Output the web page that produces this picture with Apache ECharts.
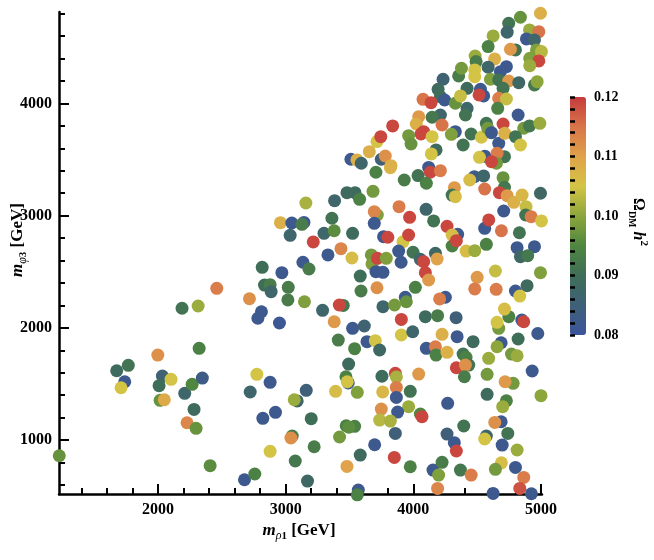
<!DOCTYPE html>
<html><head><meta charset="utf-8">
<script src="https://cdn.jsdelivr.net/npm/echarts@6/dist/echarts.min.js"></script>
<style>html,body{margin:0;padding:0;background:#fff}#c{width:654px;height:560px}</style>
</head><body><div id="c"></div>
<script>
// m_rho1 [GeV]
const X = [1226,1676,1767,1739,1710,1998,2034,2008,2102,2016,2049,2209,2267,2347,2322,2282,2227,2298,2408,
2188,2314,2460,
2716,2816,2834,2878,2886,2970,3020,3017,2810,2782,2951,3147,3135,3182,3289,3380,3451,3420,3524,3616,3331,3433,3519,3671,3676,3718,3707,3762,3584,3590,3715,3762,2959,3143,3048,3127,3035,3158,3216,3300,3362,3380,3383,3524,3480,3543,3579,3707,3684,3718,3694,3694,3767,3800,
2774,2878,2722,2821,2920,3161,3090,3067,3200,3051,3041,2878,3223,3075,2677,2758,3171,3391,3472,3490,3482,3561,3493,3412,3540,3637,3702,3736,3474,3540,3495,3422,3697,3584,3480,3569,3561,3754,3760,3749,3736,
3906,3995,4225,4343,4468,4688,4656,4821,4975,4102,4173,4178,4264,4390,4413,4434,4337,4408,4400,4590,4769,4813,3859,3867,4042,3867,3976,3867,3963,3877,4055,4068,3820,3859,4269,4395,4264,4321,4337,4578,4782,4719,4578,4729,4700,4931,5000,4688,4638,4740,4572,4559,4696,4813,4690,4643,4800,4865,4834,4925,4625,3851,3976,4154,4225,4198,4190,4369,4453,
3820,4120,4133,4212,3929,4037,4102,4322,4304,4329,4478,4551,4442,4703,4714,4559,4674,4735,4787,4852,4996,4883,4880,4923,5004,4708,4559,4591,4690,4831,3888,4100,3971,4159,4264,4347,4304,4304,4337,4413,4481,4572,4813,4949,4839,4896,4996,3919,3963,3885,3998,3788,3904,4055,4081,4173,4186,4094,4120,4016,4500,4643,4481,4649,4891,4800,4834,3937,3945,3853,4251,4206,4094,4190,4335,3906,4748,4714,4669,4656,4850,4865,
4839,4996,4747,4735,4910,4983,4886,4949,4625,4586,4800,4761,4965,5004,4484,4492,4637,4912,4983,4912,4355,4377,4481,4481,4586,4729,4682,4604,4669,4747,4826,4949,4970,4233,4421,4703,4194,4212,4245,4076,4139,4329,4369,4526,4551,4515,4421,4408,4669,4729,4661,4821,4042,4023,4212,4147,4225,4081,4060,4147,3838,3715,3745,3963,3982,4329,4298,4453,4533,4572,4583,4612,4669,4703,4716,4865,4910,4800,4839,4991,4390,3749,3780,3825,4178,4141,4560,4518,4714,4656,4651,4612,
3655,3511,3558,3592];
// m_phi3 [GeV]
const Y = [861,1618,1667,1520,1467,1758,1571,1485,1542,1355,1360,1417,1497,1553,1818,1274,1155,1105,772,
2175,2195,2353,
2260,2540,2382,2385,2323,2492,2362,2249,2144,2086,2044,2233,2585,2525,2157,2055,2200,2204,1996,2017,2650,2706,2623,2650,2570,2620,2501,2495,2462,2329,2358,2189,2938,2940,2935,2923,2825,3113,2766,2843,2977,2866,3134,2843,3205,3205,3146,3387,3217,3006,3036,2932,2813,2808,
1586,1515,1429,1194,1248,1444,1349,1360,1191,1036,1019,900,941,814,647,698,635,1435,1565,1510,1520,1426,1678,1892,1815,1877,1886,1803,1128,1123,1115,1028,959,867,766,555,513,1569,1430,1277,1179,
1937,1966,1943,1922,1877,1868,1832,1901,1950,1818,1832,1758,1782,1767,1738,1669,1645,1669,1565,1729,1767,1752,1595,1563,1589,1470,1435,1381,1298,1250,1233,1209,1170,1060,1328,1126,1054,977,903,1586,1506,1520,1408,1351,1298,1616,1396,1164,1158,1060,1036,1010,956,912,798,740,757,668,570,522,525,846,763,733,802,689,570,733,689,
3428,3430,3387,3401,3318,3357,3289,3250,3184,3169,3348,3354,3318,3339,3253,3238,3205,3178,3119,3184,3200,3080,3006,2991,2953,3042,2887,2962,2866,2848,3080,3057,2985,2953,2905,2834,2828,2730,2777,2685,2688,2745,2715,2724,2635,2644,2492,2768,2828,2685,2674,2620,2585,2611,2590,2665,2614,2492,2427,2362,2451,2507,2347,2344,2376,2329,2284,2273,2233,2204,2273,2258,2100,2109,2091,2076,2100,2168,1996,2050,2070,2055,
4768,4804,4715,4635,4655,4640,4575,4566,4602,4507,4477,4483,4477,4462,4423,4373,4397,4403,4379,4337,4245,4314,4299,4239,4323,4328,4283,4216,4210,4200,4185,4165,4194,4216,4135,4135,4126,4061,4031,4037,4007,4002,4067,4126,4067,4076,3957,3897,4046,4040,3957,3897,3882,3817,3897,3877,3808,3749,3728,3704,3800,3660,3704,3713,3639,3749,3725,3728,3699,3823,3779,3740,3645,3817,3734,3779,3800,3704,3630,3823,3630,3503,3532,3446,3586,3550,3530,3520,3526,3556,3467,3481,
3570,3503,3497,3467];
// Omega_DM h^2
const V = [0.097,0.089,0.091,0.082,0.105,0.112,0.086,0.090,0.105,0.097,0.109,0.087,0.095,0.083,0.094,0.089,0.113,0.097,0.096,
0.091,0.101,0.114,
0.112,0.090,0.090,0.093,0.087,0.082,0.093,0.093,0.082,0.082,0.081,0.099,0.082,0.093,0.087,0.111,0.092,0.119,0.082,0.086,0.082,0.113,0.106,0.098,0.099,0.119,0.082,0.082,0.090,0.093,0.112,0.087,0.108,0.082,0.082,0.093,0.087,0.102,0.119,0.087,0.091,0.096,0.087,0.089,0.089,0.089,0.094,0.094,0.098,0.099,0.113,0.082,0.082,0.119,
0.105,0.082,0.087,0.082,0.082,0.085,0.087,0.101,0.090,0.093,0.112,0.105,0.093,0.092,0.082,0.094,0.088,0.106,0.094,0.083,0.105,0.099,0.089,0.093,0.094,0.082,0.105,0.088,0.094,0.094,0.096,0.098,0.082,0.089,0.110,0.082,0.094,0.089,0.107,0.112,0.103,
0.105,0.087,0.108,0.082,0.089,0.082,0.100,0.090,0.082,0.082,0.114,0.094,0.108,0.091,0.094,0.091,0.119,0.112,0.093,0.101,0.098,0.101,0.119,0.102,0.111,0.114,0.091,0.082,0.101,0.082,0.095,0.119,0.102,0.085,0.082,0.091,0.085,0.082,0.119,0.098,0.098,0.111,0.089,0.094,0.101,0.082,0.100,0.082,0.112,0.091,0.087,0.105,0.082,0.101,0.106,0.098,0.082,0.114,0.118,0.082,0.082,0.119,0.094,0.082,0.093,0.099,0.113,0.092,0.114,
0.107,0.082,0.119,0.114,0.093,0.091,0.094,0.111,0.091,0.106,0.083,0.087,0.106,0.097,0.092,0.115,0.119,0.111,0.108,0.107,0.088,0.104,0.091,0.114,0.105,0.082,0.082,0.119,0.115,0.091,0.114,0.087,0.119,0.091,0.119,0.082,0.106,0.094,0.119,0.106,0.101,0.094,0.082,0.082,0.088,0.092,0.099,0.105,0.119,0.082,0.091,0.099,0.082,0.087,0.119,0.088,0.110,0.119,0.111,0.094,0.111,0.104,0.114,0.114,0.089,0.082,0.105,0.082,0.097,0.098,0.082,0.114,0.089,0.093,0.085,0.119,0.094,0.106,0.098,0.105,0.082,0.119,
0.097,0.108,0.091,0.087,0.101,0.115,0.082,0.087,0.101,0.094,0.091,0.111,0.099,0.103,0.101,0.093,0.108,0.099,0.119,0.101,0.093,0.098,0.105,0.105,0.087,0.082,0.082,0.099,0.091,0.111,0.088,0.092,0.100,0.086,0.089,0.091,0.089,0.090,0.082,0.115,0.119,0.097,0.104,0.082,0.082,0.119,0.087,0.091,0.114,0.104,0.094,0.082,0.111,0.108,0.087,0.092,0.115,0.119,0.119,0.105,0.119,0.105,0.119,0.098,0.097,0.082,0.099,0.091,0.105,0.091,0.098,0.082,0.082,0.119,0.108,0.098,0.092,0.091,0.105,0.101,0.091,0.085,0.112,0.108,0.089,0.105,0.082,0.105,0.091,0.114,0.098,0.119,
0.108,0.082,0.108,0.087];

const X_MAJOR = [2000,3000,4000,5000];
const X_MINOR = [1400,1600,1800,2200,2400,2600,2800,3200,3400,3600,3800,4200,4400,4600,4800];
const Y_MAJOR = [1000,2000,3000,4000];
const Y_MINOR = [600,800,1200,1400,1600,1800,2200,2400,2600,2800,3200,3400,3600,3800,4200,4400,4600,4800];
const CB_MIN = 0.08, CB_MAX = 0.12;

const XMIN = 1224, XMAX = 5008, YMIN = 520, YMAX = 4815;
const F = 'Liberation Serif, Times New Roman, serif';
const data = X.map((x,i)=>[x, Y[i], V[i]]);

const axLine = {show:true, onZero:false, lineStyle:{color:'#000', width:2.5}};
const lab = {fontFamily:F, fontWeight:'bold', fontSize:16, color:'#000', formatter:v=>String(Math.round(v))};

const chart = echarts.init(document.getElementById('c'), null, {renderer:'canvas'});
chart.setOption({
  animation:false,
  backgroundColor:'#fff',
  grid:[
    {left:59, right:112, top:12, bottom:66},
    {left:570, top:97, width:16, height:238}
  ],
  xAxis:[
    {type:'value', gridIndex:0, min:XMIN, max:XMAX, position:'bottom', axisLine:axLine,
     axisTick:{show:true, inside:true, length:10, lineStyle:{color:'#000', width:2}, customValues:X_MAJOR},
     axisLabel:Object.assign({margin:8, customValues:X_MAJOR}, lab), splitLine:{show:false}},
    {type:'value', gridIndex:0, min:XMIN, max:XMAX, position:'bottom', axisLine:{show:false},
     axisTick:{show:true, inside:true, length:6, lineStyle:{color:'#000', width:2}, customValues:X_MINOR},
     axisLabel:{show:false}, splitLine:{show:false}},
    {type:'value', gridIndex:1, show:false, min:0, max:1}
  ],
  yAxis:[
    {type:'value', gridIndex:0, min:YMIN, max:YMAX, position:'left', axisLine:axLine,
     axisTick:{show:true, inside:true, length:10, lineStyle:{color:'#000', width:2}, customValues:Y_MAJOR},
     axisLabel:Object.assign({margin:7, customValues:Y_MAJOR}, lab), splitLine:{show:false}},
    {type:'value', gridIndex:0, min:YMIN, max:YMAX, position:'left', axisLine:{show:false},
     axisTick:{show:true, inside:true, length:6, lineStyle:{color:'#000', width:2}, customValues:Y_MINOR},
     axisLabel:{show:false}, splitLine:{show:false}},
    {type:'value', gridIndex:1, min:CB_MIN, max:CB_MAX, interval:0.01, position:'right',
     axisLine:{show:false},
     axisTick:{show:true, inside:false, length:5, lineStyle:{color:'#000', width:2.5}},
     minorTick:{show:true, splitNumber:5, length:5, lineStyle:{color:'#000', width:2.5}},
     axisLabel:{margin:8, fontFamily:F, fontWeight:'bold', fontSize:14, color:'#000', formatter:v=>v.toFixed(2)},
     splitLine:{show:false}, minorSplitLine:{show:false}, z:10}
  ],
  visualMap:{
    type:'continuous', min:CB_MIN, max:CB_MAX, dimension:2, seriesIndex:0,
    left:570, top:97, itemWidth:16, itemHeight:238, padding:0, calculable:false, text:null,
    inRange:{color:['#3c559c','#3f6078','#3f6e58','#4f8640','#8ca63c','#d4c446','#e0a24a','#d8744a','#c63c3c']}
  },
  series:[{
    type:'scatter', xAxisIndex:0, yAxisIndex:0, data:data, symbol:'circle', symbolSize:13,
    itemStyle:{opacity:1}, clip:false
  }],
  graphic:[
    {type:'text', x:299, y:531, style:{text:'{m|m}{s|ρ}{n|1}{g| [GeV]}', align:'center', verticalAlign:'middle',
      rich:{
        m:{fontFamily:F, fontStyle:'italic', fontWeight:'bold', fontSize:17, lineHeight:22, fill:'#000'},
        s:{fontFamily:F, fontStyle:'italic', fontSize:12, lineHeight:12, verticalAlign:'bottom', fill:'#000'},
        n:{fontFamily:F, fontWeight:'bold', fontSize:11, lineHeight:12, verticalAlign:'bottom', fill:'#000'},
        g:{fontFamily:F, fontWeight:'bold', fontSize:17, lineHeight:22, fill:'#000'}
      }}},
    {type:'text', x:18, y:240, rotation:Math.PI/2, style:{text:'{m|m}{s|φ}{n|3}{g| [GeV]}', align:'center', verticalAlign:'middle',
      rich:{
        m:{fontFamily:F, fontStyle:'italic', fontWeight:'bold', fontSize:17, lineHeight:22, fill:'#000'},
        s:{fontFamily:F, fontStyle:'italic', fontSize:12, lineHeight:12, verticalAlign:'bottom', fill:'#000'},
        n:{fontFamily:F, fontWeight:'bold', fontSize:11, lineHeight:12, verticalAlign:'bottom', fill:'#000'},
        g:{fontFamily:F, fontWeight:'bold', fontSize:17, lineHeight:22, fill:'#000'}
      }}},
    {type:'text', x:638, y:222, rotation:-Math.PI/2, style:{text:'{o|Ω}{d|DM}{h| h}{p|2}', align:'center', verticalAlign:'middle',
      rich:{
        o:{fontFamily:F, fontWeight:'bold', fontSize:16, lineHeight:22, fill:'#000'},
        d:{fontFamily:F, fontWeight:'bold', fontSize:10, lineHeight:11, verticalAlign:'bottom', fill:'#000'},
        h:{fontFamily:F, fontStyle:'italic', fontWeight:'bold', fontSize:16, lineHeight:22, fill:'#000'},
        p:{fontFamily:F, fontWeight:'bold', fontSize:11, lineHeight:11, verticalAlign:'top', fill:'#000'}
      }}}
  ]
});
</script></body></html>
